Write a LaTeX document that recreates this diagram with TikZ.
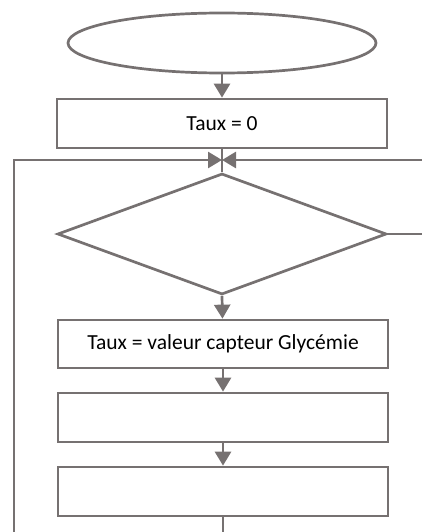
\documentclass[tikz,border=0pt]{standalone}
\usepackage{fontspec}
\setmainfont{Carlito}
\usetikzlibrary{shapes.geometric,arrows.meta}
\definecolor{lg}{RGB}{118,113,113}
\begin{document}
\begin{tikzpicture}[x=1pt,y=-1pt,
  every node/.style={draw=lg,line width=2.7pt,inner sep=0pt,font=\fontsize{21.5}{25}\selectfont,text=black},
  boxn/.style={rectangle,minimum width=330pt,minimum height=49pt},
  arr/.style={draw=lg,line width=2.7pt,-{Triangle[length=14pt,width=16pt]}},
  ln/.style={draw=lg,line width=2.7pt}]
\useasboundingbox (0,0) rectangle (422,532);
\node[ellipse,minimum width=308pt,minimum height=60pt] (start) at (222,43) {};
\node[boxn] (b1) at (222,123.5) {Taux = 0};
\node[diamond,minimum width=329pt,minimum height=121pt] (d) at (222,234) {};
\node[boxn,minimum height=48pt] (b2) at (223,344) {Taux = valeur capteur Glycémie};
\node[boxn] (b3) at (223,417.5) {};
\node[boxn] (b4) at (223,491.5) {};
\coordinate (j) at (222,160);
\coordinate (lb) at (14,532);
\coordinate (lt) at (14,160);
\coordinate (rt) at (422,160);
\coordinate (re) at (422,234);
\coordinate (bb) at (223,532);
\draw[arr] (start) -- (b1);
\draw[ln] (b1) -- (d.north);
\draw[arr] (lb) -- (lt) -- (j);
\draw[arr] (rt) -- (j);
\draw[ln] (d.east) -- (re);
\draw[arr] (d.south) -- (b2);
\draw[arr] (b2) -- (b3);
\draw[arr] (b3) -- (b4);
\draw[ln] (b4) -- (bb);
\end{tikzpicture}
\end{document}
